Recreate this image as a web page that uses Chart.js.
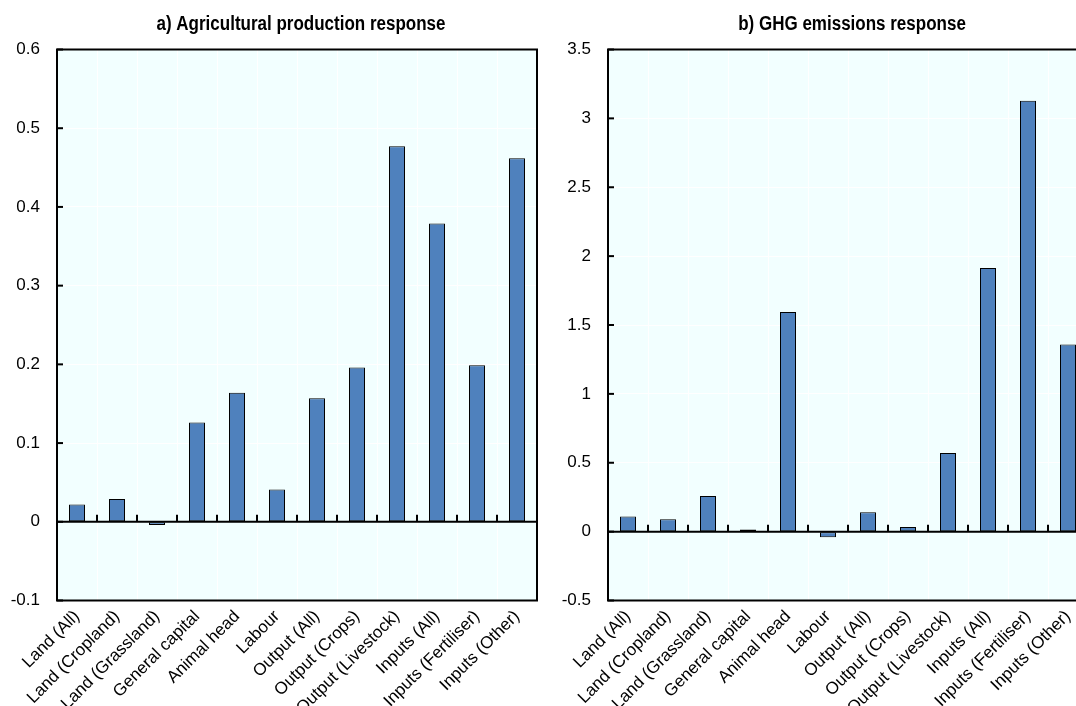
<!DOCTYPE html>
<html>
<head>
<meta charset="utf-8">
<script src="https://cdn.jsdelivr.net/npm/chart.js@4.4.1/dist/chart.umd.min.js"></script>
<style>
  html, body { margin: 0; padding: 0; background: #ffffff; overflow: hidden; width: 1076px; height: 706px; }
  canvas { position: absolute; top: 0; }
  #production { left: 0; }
  #emissions { left: 540px; }
</style>
</head>
<body>
<canvas id="production" width="545" height="706"></canvas>
<canvas id="emissions" width="560" height="706"></canvas>
<script>
// Categories shared by both panels
const categories = [
  'Land (All)', 'Land (Cropland)', 'Land (Grassland)', 'General capital',
  'Animal head', 'Labour', 'Output (All)', 'Output (Crops)',
  'Output (Livestock)', 'Inputs (All)', 'Inputs (Fertiliser)', 'Inputs (Other)'
];

// Panel a) agricultural production response
const productionResponse = [0.022, 0.029, -0.004, 0.126, 0.164, 0.041, 0.157, 0.196, 0.477, 0.379, 0.199, 0.462];
const productionTicks = [-0.1, 0, 0.1, 0.2, 0.3, 0.4, 0.5, 0.6];

// Panel b) GHG emissions response
const emissionsResponse = [0.109, 0.090, 0.259, 0.015, 1.595, -0.041, 0.141, 0.034, 0.570, 1.913, 3.128, 1.358];
const emissionsTicks = [-0.5, 0, 0.5, 1, 1.5, 2, 2.5, 3, 3.5];

const panelTitles = ['a) Agricultural production response', 'b) GHG emissions response'];

const FONT = "'Liberation Sans', Arial, sans-serif";
const BAR_BLUE = '#4F81BD';
const PLOT_BG = '#F2FFFF';

// Background, frame, zero line, inward tick marks and the panel title
const panelDecor = {
  id: 'panelDecor',
  beforeDraw(chart) {
    const a = chart.chartArea;
    const ctx = chart.ctx;
    ctx.save();
    ctx.fillStyle = PLOT_BG;
    ctx.fillRect(a.left, a.top, a.right - a.left, a.bottom - a.top);
    ctx.restore();
  },
  afterDatasetsDraw(chart, args, opts) {
    const { ctx, chartArea: a, scales: { x, y } } = chart;
    ctx.save();
    ctx.strokeStyle = '#000000';
    ctx.lineWidth = 2;
    ctx.lineCap = 'butt';
    const line = (x1, y1, x2, y2) => { ctx.beginPath(); ctx.moveTo(x1, y1); ctx.lineTo(x2, y2); ctx.stroke(); };

    const y0 = y.getPixelForValue(0);
    line(a.left, y0, a.right, y0);

    // category boundary ticks rising from the zero line
    for (let i = 1; i < categories.length; i++) {
      const bx = (x.getPixelForValue(i - 1) + x.getPixelForValue(i)) / 2;
      line(bx, y0, bx, y0 - 7);
    }
    // value ticks pointing into the plot
    y.ticks.forEach(t => {
      const py = y.getPixelForValue(t.value);
      line(a.left, py, a.left + 6, py);
    });
    ctx.strokeRect(a.left, a.top, a.right - a.left, a.bottom - a.top);

    // condensed bold title centred over the plot area
    const cx = (a.left + a.right) / 2 + 4;
    ctx.translate(cx, 24);
    ctx.scale(0.85, 1);
    ctx.fillStyle = '#000000';
    ctx.font = 'bold 20px ' + FONT;
    ctx.textAlign = 'center';
    ctx.textBaseline = 'middle';
    ctx.fillText(opts.text, 0, 0);
    ctx.restore();
  }
};

function makePanel(canvasId, values, ticks, title, yWidth, padRight) {
  return new Chart(document.getElementById(canvasId), {
    type: 'bar',
    data: {
      labels: categories,
      datasets: [{
        data: values,
        backgroundColor: BAR_BLUE,
        borderColor: '#000000',
        borderWidth: 1,
        borderSkipped: false,
        barPercentage: 0.4,
        categoryPercentage: 1.0
      }]
    },
    options: {
      responsive: false,
      animation: false,
      devicePixelRatio: 1,
      layout: { padding: { top: 49.5, right: padRight, left: 0, bottom: 0 } },
      plugins: {
        legend: { display: false },
        title: { display: false },
        tooltip: { enabled: false },
        panelDecor: { text: title }
      },
      scales: {
        x: {
          offset: true,
          grid: { offset: true, color: '#FFFFFF', lineWidth: 1, drawTicks: false },
          border: { display: false },
          ticks: {
            minRotation: 45, maxRotation: 45, autoSkip: false, padding: 6,
            color: '#000000', font: { family: FONT, size: 17 }
          },
          afterFit(scale) { scale.height = 105.5; }
        },
        y: {
          min: ticks[0],
          max: ticks[ticks.length - 1],
          afterBuildTicks(scale) { scale.ticks = ticks.map(v => ({ value: v })); },
          grid: { color: '#FFFFFF', lineWidth: 1, drawTicks: false },
          border: { display: false },
          ticks: {
            padding: 17, color: '#000000', font: { family: FONT, size: 17 },
            callback: v => String(v)
          },
          afterFit(scale) { scale.width = yWidth; }
        }
      }
    },
    plugins: [panelDecor]
  });
}

makePanel('production', productionResponse, productionTicks, panelTitles[0], 57, 8);
makePanel('emissions', emissionsResponse, emissionsTicks, panelTitles[1], 68, 12);
</script>
</body>
</html>
